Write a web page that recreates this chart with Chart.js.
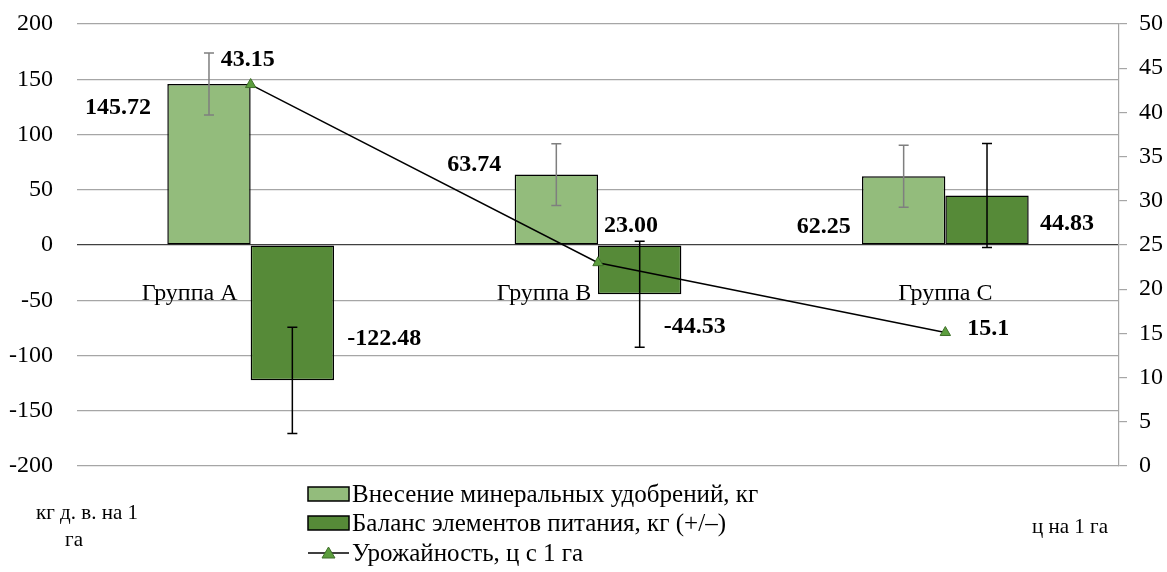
<!DOCTYPE html>
<html lang="ru">
<head>
    <meta charset="UTF-8" />
    <title>Баланс элементов питания</title>
    <style>
        body { margin: 0; background: #ffffff; }
        #chart { display: block; }
    </style>
</head>
<body>
    <canvas id="chart" width="1167" height="572"></canvas>
    <script src="https://cdn.jsdelivr.net/npm/chart.js@4.4.0/dist/chart.umd.min.js"></script>
    <script>
        // данные с графика
        const groups = ["Группа А", "Группа В", "Группа С"];
        const fertilizer = [145.72, 63.74, 62.25];
        const balance = [-122.48, -44.53, 44.83];
        const yieldValues = [43.15, 23.0, 15.1];
        const fertilizerErr = [28, 28, 28];
        const balanceErr = [48, 48, 47];
        const fertilizerLabels = ["145.72", "63.74", "62.25"];
        const balanceLabels = ["-122.48", "-44.53", "44.83"];
        const yieldLabels = ["43.15", "23.00", "15.1"];
        const leftTicks = [-200, -150, -100, -50, 0, 50, 100, 150, 200];
        const rightTicks = [0, 5, 10, 15, 20, 25, 30, 35, 40, 45, 50];

        const LIGHT = "#93bc7c";
        const DARK = "#568a38";
        const SERIF = "'Liberation Serif', 'Times New Roman', serif";

        Chart.defaults.font.family = SERIF;
        Chart.defaults.color = "#000";

        // смещения подписей (вручную, как в исходнике)
        const offFert = [[-91, 30], [-82, -4], [-80, 57]];
        const offBal = [[92, -35], [55, 39], [80, 35]];
        const offYield = [[-3, -19], [33, -31], [43, 2]];
        const catLabelX = [-61, -54, 0];

        const extras = {
            id: "extras",
            afterDatasetsDraw(chart) {
                const ctx = chart.ctx;
                const y = chart.scales.y;

                // error bars
                const drawErr = (meta, vals, errs, color) => {
                    meta.data.forEach((bar, i) => {
                        const top = y.getPixelForValue(vals[i] + errs[i]);
                        const bot = y.getPixelForValue(vals[i] - errs[i]);
                        ctx.save();
                        ctx.strokeStyle = color;
                        ctx.lineWidth = 1.5;
                        ctx.beginPath();
                        ctx.moveTo(bar.x, top); ctx.lineTo(bar.x, bot);
                        ctx.moveTo(bar.x - 5, top); ctx.lineTo(bar.x + 5, top);
                        ctx.moveTo(bar.x - 5, bot); ctx.lineTo(bar.x + 5, bot);
                        ctx.stroke();
                        ctx.restore();
                    });
                };
                drawErr(chart.getDatasetMeta(0), fertilizer, fertilizerErr, "#7f7f7f");
                drawErr(chart.getDatasetMeta(1), balance, balanceErr, "#000");
            },
            afterDraw(chart) {
                const ctx = chart.ctx;
                const zero = chart.scales.y.getPixelForValue(0);
                ctx.save();
                ctx.fillStyle = "#000";

                // подписи значений
                ctx.font = "bold 24px " + SERIF;
                ctx.textAlign = "center";
                ctx.textBaseline = "alphabetic";
                const put = (meta, labels, offs) => {
                    meta.data.forEach((el, i) => {
                        ctx.fillText(labels[i], el.x + offs[i][0], el.y + offs[i][1]);
                    });
                };
                put(chart.getDatasetMeta(0), fertilizerLabels, offFert);
                put(chart.getDatasetMeta(1), balanceLabels, offBal);
                put(chart.getDatasetMeta(2), yieldLabels, offYield);

                // категории у нулевой линии
                ctx.font = "24px " + SERIF;
                const xs = chart.scales.x;
                groups.forEach((g, i) => {
                    ctx.fillText(g, xs.getPixelForValue(i) + catLabelX[i], zero + 55);
                });

                // подписи осей
                ctx.font = "21px " + SERIF;
                ctx.fillText("кг д. в. на 1", 87, 519);
                ctx.fillText("га", 74, 546);
                ctx.fillText("ц на 1 га", 1070, 533);

                // легенда
                const lx = 308, ly = [494, 523, 553];
                ctx.textAlign = "left";
                ctx.textBaseline = "middle";
                ctx.font = "25px " + SERIF;
                [[LIGHT, chart.data.datasets[0].label], [DARK, chart.data.datasets[1].label]].forEach(([c, t], i) => {
                    ctx.fillStyle = c;
                    ctx.fillRect(lx, ly[i] - 7, 41, 14);
                    ctx.strokeStyle = "#000";
                    ctx.lineWidth = 1.5;
                    ctx.strokeRect(lx, ly[i] - 7, 41, 14);
                    ctx.fillStyle = "#000";
                    ctx.fillText(t, lx + 44, ly[i] + 1);
                });
                ctx.strokeStyle = "#000";
                ctx.lineWidth = 1.5;
                ctx.beginPath();
                ctx.moveTo(lx, ly[2]); ctx.lineTo(lx + 41, ly[2]);
                ctx.stroke();
                ctx.fillStyle = "#5c9e3e";
                ctx.beginPath();
                ctx.moveTo(lx + 20.5, ly[2] - 6);
                ctx.lineTo(lx + 27, ly[2] + 5);
                ctx.lineTo(lx + 14, ly[2] + 5);
                ctx.closePath();
                ctx.fill();
                ctx.strokeStyle = "#3f6f2a";
                ctx.lineWidth = 1;
                ctx.stroke();
                ctx.fillStyle = "#000";
                ctx.fillText(chart.data.datasets[2].label, lx + 44, ly[2] + 1);
                ctx.restore();
            }
        };

        // убрать внутренние отступы оси, чтобы область графика совпала
        function fixAxis(width) {
            return (s) => {
                s.width = width;
                s.paddingTop = 0;
                s.paddingBottom = 0;
            };
        }

        new Chart(document.getElementById("chart"), {
            type: "bar",
            data: {
                labels: groups,
                datasets: [
                    {
                        label: "Внесение минеральных удобрений, кг",
                        data: fertilizer,
                        backgroundColor: LIGHT,
                        borderColor: "#000",
                        borderWidth: 1.5,
                        borderSkipped: false,
                        yAxisID: "y",
                        order: 2,
                    },
                    {
                        label: "Баланс элементов питания, кг (+/–)",
                        data: balance,
                        backgroundColor: DARK,
                        borderColor: "#000",
                        borderWidth: 1.5,
                        borderSkipped: false,
                        yAxisID: "y",
                        order: 2,
                    },
                    {
                        type: "line",
                        label: "Урожайность, ц с 1 га",
                        data: yieldValues,
                        borderColor: "#000",
                        borderWidth: 1.5,
                        tension: 0,
                        fill: false,
                        pointStyle: "triangle",
                        pointRadius: 6,
                        pointBackgroundColor: "#5c9e3e",
                        pointBorderColor: "#3f6f2a",
                        pointBorderWidth: 1,
                        yAxisID: "y2",
                        order: 1,
                    },
                ],
            },
            options: {
                responsive: false,
                animation: false,
                layout: { padding: { top: 24, bottom: 106, left: 0, right: 0 } },
                datasets: {
                    bar: { categoryPercentage: 0.48, barPercentage: 1 },
                },
                plugins: {
                    legend: { display: false },
                    tooltip: { enabled: false },
                },
                scales: {
                    x: {
                        display: false,
                        offset: true,
                    },
                    y: {
                        position: "left",
                        min: -200,
                        max: 200,
                        afterBuildTicks: (s) => { s.ticks = leftTicks.map((v) => ({ value: v })); },
                        afterFit: fixAxis(77),
                        border: { display: false },
                        grid: {
                            drawTicks: false,
                            lineWidth: 1.2,
                            color: (c) => (c.tick && c.tick.value === 0 ? "#404040" : "#a6a6a6"),
                        },
                        ticks: { padding: 24, font: { size: 24 }, color: "#000" },
                    },
                    y2: {
                        position: "right",
                        min: 0,
                        max: 50,
                        afterBuildTicks: (s) => { s.ticks = rightTicks.map((v) => ({ value: v })); },
                        afterFit: fixAxis(48),
                        border: { display: true, color: "#a6a6a6", width: 1.2 },
                        grid: {
                            drawOnChartArea: false,
                            drawTicks: true,
                            tickLength: 8,
                            color: "#a6a6a6",
                            lineWidth: 1.2,
                        },
                        ticks: { padding: 12, font: { size: 24 }, color: "#000" },
                    },
                },
            },
            plugins: [extras],
        });
    </script>
</body>
</html>
